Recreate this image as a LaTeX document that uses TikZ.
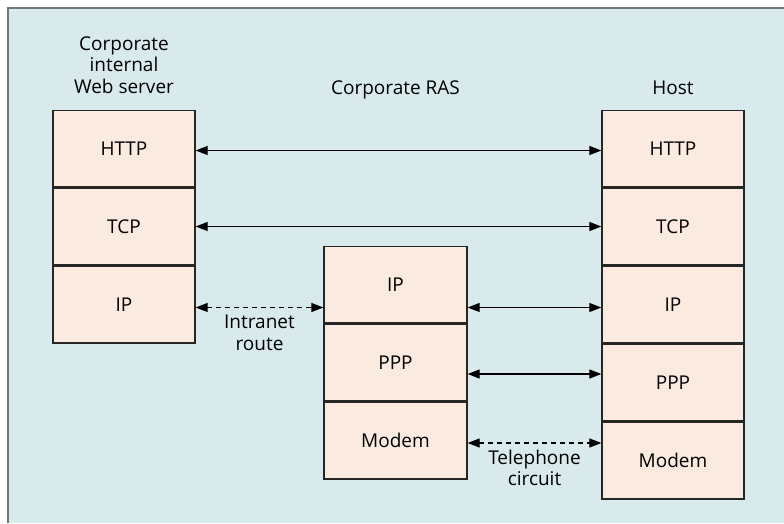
\documentclass[tikz,border=0pt]{standalone}
\usepackage{fontspec}
\setmainfont{Open Sans}
\usetikzlibrary{positioning, arrows.meta, calc}
\definecolor{panelbg}{HTML}{D9EAED}
\definecolor{panelrule}{HTML}{6E7878}
\definecolor{layerfill}{HTML}{FAEADF}
\tikzset{
  % --- protocol layers ---
  layer/.style={draw=black!85, fill=layerfill, minimum width=142pt,
    minimum height=76.7pt, line width=1.3pt, inner sep=0pt,
    font=\fontsize{19}{21}\selectfont},
  % --- peer relations ---
  peer/.style={{Triangle[length=12pt, width=9pt]}-{Triangle[length=12pt, width=9pt]},
    line width=1.2pt},
  peerdash/.style={peer, dash pattern=on 5pt off 4pt},
  % --- captions ---
  caption/.style={font=\fontsize{19}{21.5}\selectfont, align=center, inner sep=2pt},
}

\begin{document}
\begin{tikzpicture}[x=1pt, y=-1pt]
    \useasboundingbox (0,0) rectangle (784,523);
    % ---- Panel ----
    \fill[panelbg] (7.5,7.5) rectangle (784,523);
    \draw[panelrule, line width=2pt] (7.5,523) -- (7.5,7.5) -- (784,7.5);
    % ---- Web server stack ----
    \node[layer] (lhttp) at (124,148.5) {HTTP};
    \node[layer, below=0pt of lhttp] (ltcp) {TCP};
    \node[layer, below=0pt of ltcp] (lip) {IP};
    % ---- RAS stack ----
    \node[layer, minimum width=143pt] (mip) at (395.5,284.5) {IP};
    \node[layer, minimum width=143pt, below=0pt of mip] (mppp) {PPP};
    \node[layer, minimum width=143pt, below=0pt of mppp] (mmodem) {Modem};
    % ---- Host stack ----
    \node[layer] (rhttp) at (673,148.5) {HTTP};
    \node[layer, below=0pt of rhttp] (rtcp) {TCP};
    \node[layer, below=0pt of rtcp] (rip) {IP};
    \node[layer, below=0pt of rip] (rppp) {PPP};
    \node[layer, below=0pt of rppp] (rmodem) {Modem};
    % ---- Headings ----
    \node[caption, above=13pt of rhttp] (hostlbl) {Host};
    \node[caption, anchor=base] (raslbl) at (mip |- hostlbl.base) {Corporate RAS};
    \node[caption, above=14pt of lhttp] (weblbl) {Corporate\\internal\\Web server};
    % ---- Peer links ----
    \draw[peer] ([yshift=-2pt]lhttp.east) -- ([yshift=-2pt]lhttp.east -| rhttp.west);
    \draw[peer] (ltcp.east) -- (ltcp.east -| rtcp.west);
    \draw[peerdash] ([yshift=-3pt]lip.east) -- ([yshift=-3pt]lip.east -| mip.west)
      node[midway, below=5pt, caption] (intranet) {Intranet\\route};
    \draw[peer] ([yshift=-3pt]lip.east -| mip.east) -- ([yshift=-3pt]lip.east -| rip.west);
    \draw[peer] ([yshift=-11.5pt]mppp.east) -- ([yshift=-11.5pt]mppp.east -| rppp.west);
    \draw[peerdash] ([yshift=-2.5pt]mmodem.east) -- ([yshift=-2.5pt]mmodem.east -| rmodem.west)
      node[midway, below=4pt, caption] (phone) {Telephone\\circuit};
  \end{tikzpicture}
\end{document}
